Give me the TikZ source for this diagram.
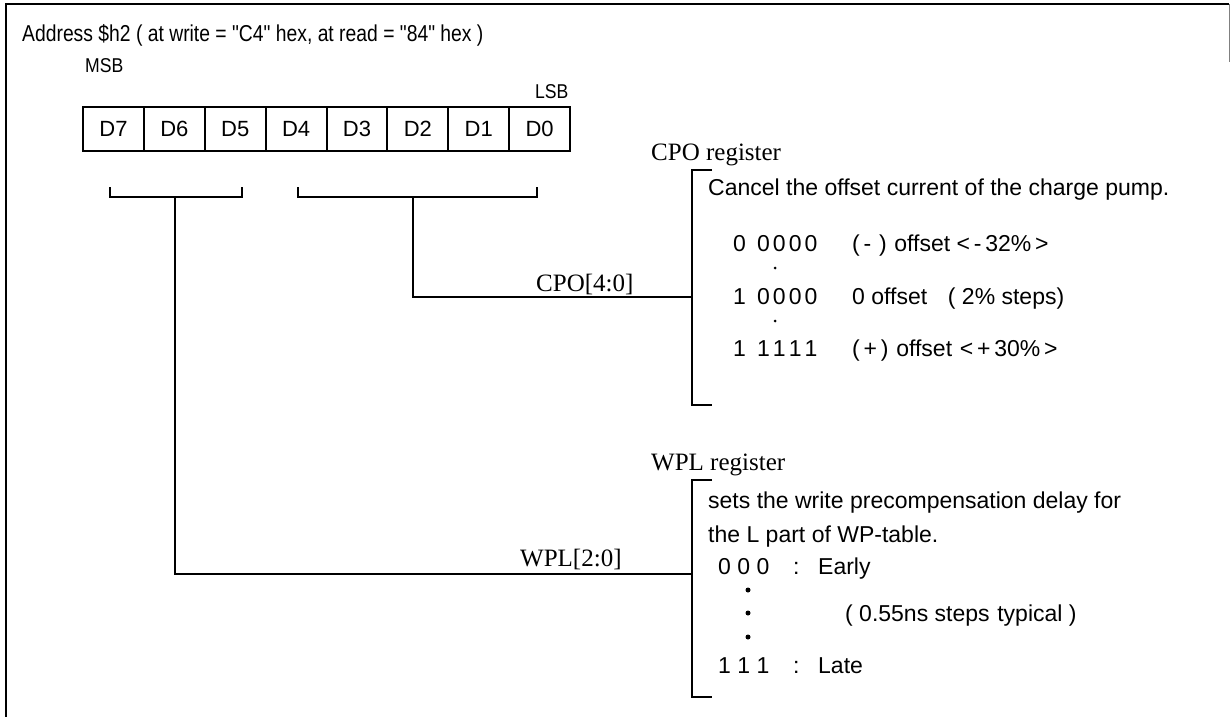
\documentclass[tikz,border=0pt]{standalone}
\usepackage{fontspec}
\usepackage{graphicx}
\setmainfont{Liberation Sans}
\newfontfamily\seriffont{Liberation Serif}
\newfontfamily\plainsans{Liberation Sans}
\begin{document}
\begin{tikzpicture}[x=1pt,y=-1pt,
  cell/.style={draw, line width=2pt, minimum width=60.9pt, minimum height=44pt, inner sep=0pt, anchor=north west, font=\fontsize{22}{26}\selectfont},
  sans/.style={font=\fontsize{23}{27}\selectfont, inner sep=0pt, anchor=base west},
  serif/.style={font=\seriffont\fontsize{25}{29}\selectfont, inner sep=0pt, anchor=base west},
  wire/.style={line width=1.7pt},
  frameline/.style={line width=2.5pt},
  dotmark/.style={circle, fill=black, inner sep=0pt, minimum size=#1}]
\useasboundingbox (0,0) rectangle (1231,717);
% frame
\coordinate (fbl) at (6,717);
\coordinate (ftl) at (6,4);
\coordinate (ftr) at (1229,4);
\coordinate (frs) at (1229,62);
\draw[frameline] (fbl) -- (ftl) -- (ftr);
\draw[gray, line width=1pt] (ftr) -- (frs);
% title
\node[sans, font=\plainsans\fontsize{23}{27}\selectfont] (title) at (22,42) {\scalebox{0.84}[1]{Address \$h2 ( at write = "C4" hex, at read = "84" hex )}};
\node[sans, font=\fontsize{20}{24}\selectfont] (msb) at (85,73) {\scalebox{0.88}[1]{MSB}};
\node[sans, font=\fontsize{20}{24}\selectfont] (lsb) at (535,99) {\scalebox{0.88}[1]{LSB}};
% register cells
\foreach \i [evaluate=\i as \x using 82+60.875*\i, evaluate=\i as \n using int(7-\i)] in {0,...,7}
  \node[cell] (c\i) at (\x,106) {D\n};
% brackets under cells
\coordinate (lb1) at (110,187);
\coordinate (lb2) at (110,197);
\coordinate (lb3) at (242,197);
\coordinate (lb4) at (242,187);
\coordinate (ls) at (175,197);
\draw[wire] (lb1) -- (lb2) -- (lb3) -- (lb4);
\coordinate (rb1) at (298,187);
\coordinate (rb2) at (298,197);
\coordinate (rb3) at (537,197);
\coordinate (rb4) at (537,187);
\coordinate (rs) at (413,197);
\draw[wire] (rb1) -- (rb2) -- (rb3) -- (rb4);
% CPO register bracket
\coordinate (ct1) at (712,170);
\coordinate (ct2) at (692,170);
\coordinate (ct3) at (692,405);
\coordinate (ct4) at (712,405);
\coordinate (cin) at (692,297);
\draw[wire] (ct1) -- (ct2) -- (ct3) -- (ct4);
\draw[wire] (rs) |- (cin);
\node[serif] (cpolab) at (536,291) {CPO[4:0]};
\node[serif] (cporeg) at (651,160) {CPO register};
\node[sans] (cpodesc) at (708,195) {Cancel the offset current of the charge pump.};
\node[sans] (r1a) at (733,251) {0};
\node[sans] (r1b) at (757,251) {0\kern3pt0\kern3pt0\kern3pt0};
\node[sans] (r1c) at (852,251) {(\,-\,\,)\,\,offset {<}\,-\,32\%\,{>}};
\node[dotmark=3pt] (d1) at (775,268) {};
\node[sans] (r2a) at (733,304) {1};
\node[sans] (r2b) at (757,304) {0\kern3pt0\kern3pt0\kern3pt0};
\node[sans] (r2c) at (852,304) {0 offset\hspace{0.9em}( 2\% steps)};
\node[dotmark=3pt] (d2) at (775,321) {};
\node[sans] (r3a) at (733,356) {1};
\node[sans] (r3b) at (757,356) {1\kern3pt1\kern3pt1\kern3pt1};
\node[sans] (r3c) at (852,356) {(\,+\,)\,\,offset\,\,{<}\,+\,30\%\,{>}};
% WPL register bracket
\coordinate (wt1) at (712,480);
\coordinate (wt2) at (692,480);
\coordinate (wt3) at (692,697);
\coordinate (wt4) at (712,697);
\coordinate (win) at (692,574);
\draw[wire] (wt1) -- (wt2) -- (wt3) -- (wt4);
\draw[wire] (ls) |- (win);
\node[serif] (wpllab) at (520,566) {WPL[2:0]};
\node[serif] (wplreg) at (651,470) {WPL register};
\node[sans] (wd1) at (708,508) {sets the write precompensation delay for};
\node[sans] (wd2) at (708,542) {the L part of WP-table.};
\node[sans] (e1) at (718,574) {0 0 0};
\node[sans] (e2) at (793,574) {:};
\node[sans] (e3) at (818,574) {Early};
\node[dotmark=5pt] (b1) at (748,590) {};
\node[dotmark=5pt] (b2) at (748,613) {};
\node[dotmark=5pt] (b3) at (748,637) {};
\node[sans] (steps) at (845,621) {( 0.55ns steps\,\,typical )};
\node[sans] (l1) at (718,673) {1 1 1};
\node[sans] (l2) at (793,673) {:};
\node[sans] (l3) at (818,673) {Late};
\end{tikzpicture}
\end{document}
